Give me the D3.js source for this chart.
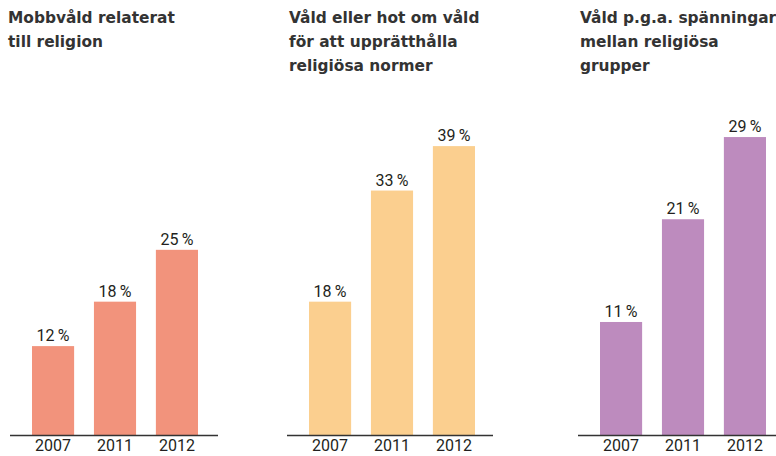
<!DOCTYPE html>
<meta charset="utf-8">
<head>
  <title>Våld relaterat till religion</title>
</head>
<style>
  body { margin: 0; background: #fff; }
  .title { font-family: "DejaVu Sans", sans-serif; font-weight: bold; font-size: 15.4px; fill: #333; }
  .val { font-family: Roboto, sans-serif; font-size: 16px; fill: #231f20; }
  .year { font-family: Roboto, sans-serif; font-size: 16px; fill: #231f20; }
</style>
<body>
<svg width="776" height="456"></svg>
<script src="https://cdnjs.cloudflare.com/ajax/libs/d3/7.8.5/d3.min.js"></script>
<script>

var years = ["2007", "2011", "2012"];

var titles = [
  ["Mobbvåld relaterat", "till religion"],
  ["Våld eller hot om våld", "för att upprätthålla", "religiösa normer"],
  ["Våld p.g.a. spänningar", "mellan religiösa", "grupper"]
];

var mobbvald = [12, 18, 25];
var normer = [18, 33, 39];
var spanningar = [11, 21, 29];

var colors = ["#f2937c", "#fbcf8f", "#bd8bbe"];

// each small chart: title x, left edge of axis, axis end, y max
var panels = [
  { vals: mobbvald,   tx: 8,   x0: 10,  x1: 218, ymax: 40.5 },
  { vals: normer,     tx: 289, x0: 287, x1: 493, ymax: 40.5 },
  { vals: spanningar, tx: 580, x0: 578, x1: 776, ymax: 29.2 }
];

var svg = d3.select("svg");
var baseY = 435, topY = 135;

panels.forEach(function(p, i) {
  var g = svg.append("g");

  var x = d3.scaleBand().domain(years)
    .range([p.x0 + 22, p.x0 + 188]).paddingInner(0.32).paddingOuter(0);
  var y = d3.scaleLinear().domain([0, p.ymax]).range([baseY, topY]);

  g.selectAll(".title").data(titles[i]).enter().append("text")
    .attr("class", "title")
    .attr("x", p.tx)
    .attr("y", function(d, j) { return 23 + j * 24; })
    .text(function(d) { return d; });

  g.selectAll("rect").data(p.vals).enter().append("rect")
    .attr("x", function(d, j) { return x(years[j]); })
    .attr("y", function(d) { return y(d); })
    .attr("width", x.bandwidth())
    .attr("height", function(d) { return baseY - y(d); })
    .attr("fill", colors[i]);

  g.selectAll(".val").data(p.vals).enter().append("text")
    .attr("class", "val")
    .attr("text-anchor", "middle")
    .attr("x", function(d, j) { return x(years[j]) + x.bandwidth() / 2; })
    .attr("y", function(d) { return y(d) - 5; })
    .text(function(d) { return d + "\u2009%"; });

  var ax = g.append("g").attr("transform", "translate(0," + baseY + ")")
    .call(d3.axisBottom(x).tickSize(0).tickPadding(5));
  ax.select(".domain").remove();
  ax.selectAll("text").attr("class", "year").attr("dy", "0.71em").attr("font-size", null).attr("font-family", null);

  g.append("line")
    .attr("x1", p.x0).attr("x2", p.x1)
    .attr("y1", baseY + 0.5).attr("y2", baseY + 0.5)
    .attr("stroke", "#333").attr("stroke-width", 1.5);
});
</script>
</body>
